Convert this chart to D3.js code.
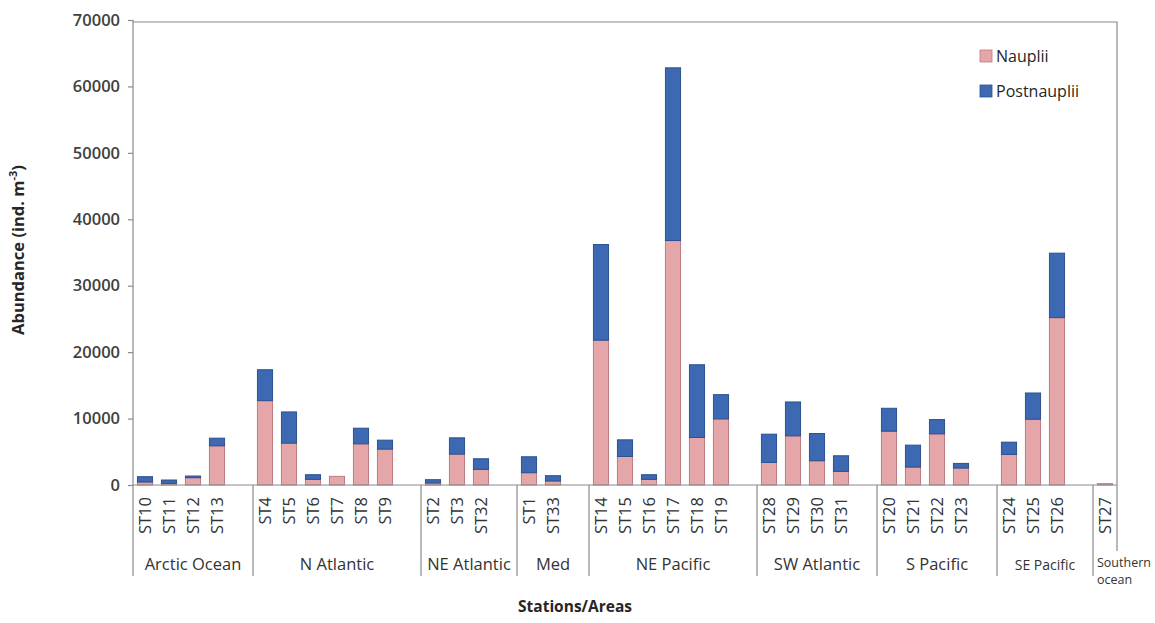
<!DOCTYPE html>
<html><head><meta charset="utf-8">
<script src="https://cdn.jsdelivr.net/npm/d3@7"></script>
<style>body{margin:0;background:#fff;} svg{display:block;font-family:"Open Sans",sans-serif;}</style>
</head><body><svg id="c" width="1155" height="623"></svg>
<script>
const stations = ["ST10","ST11","ST12","ST13","ST4","ST5","ST6","ST7","ST8","ST9","ST2","ST3","ST32","ST1","ST33","ST14","ST15","ST16","ST17","ST18","ST19","ST28","ST29","ST30","ST31","ST20","ST21","ST22","ST23","ST24","ST25","ST26","ST27"];
const areas = ["Arctic Ocean","Arctic Ocean","Arctic Ocean","Arctic Ocean","N Atlantic","N Atlantic","N Atlantic","N Atlantic","N Atlantic","N Atlantic","NE Atlantic","NE Atlantic","NE Atlantic","Med","Med","NE Pacific","NE Pacific","NE Pacific","NE Pacific","NE Pacific","NE Pacific","SW Atlantic","SW Atlantic","SW Atlantic","SW Atlantic","S Pacific","S Pacific","S Pacific","S Pacific","SE Pacific","SE Pacific","SE Pacific","Southern ocean"];
const nauplii = [450,250,1100,5900,12700,6300,850,1300,6200,5400,300,4650,2350,1850,600,21800,4300,850,36800,7150,9950,3400,7400,3650,2050,8100,2700,7700,2550,4600,9900,25200,200];
const postnauplii = [800,500,250,1150,4650,4700,700,0,2350,1350,500,2450,1600,2400,800,14400,2500,700,26000,10950,3650,4250,5100,4100,2350,3450,3300,2150,700,1850,3950,9700,0];
const yTicks = [0,10000,20000,30000,40000,50000,60000,70000];
const seriesNames = ["Nauplii","Postnauplii"];
const colors = {fill:["#e5a6a9","#3c69b2"], stroke:["#bb7c80","#2c5090"]};

const svg = d3.select("#c");
const X0 = 133, X1 = 1117, Y0 = 485, YT = 20;

const groupNames = [...new Set(areas)];
const slots = [];
const groupSpans = [];
groupNames.forEach((g, gi) => {
  const start = slots.length;
  stations.forEach((s, i) => { if (areas[i] === g) slots.push(s); });
  if (gi < groupNames.length - 1) slots.push("_gap" + gi);
  groupSpans.push({name: g, start, end: slots.length});
});

const p = 0.37;
const x = d3.scaleBand().domain(slots).range([X0, X1]).paddingInner(p).paddingOuter(p / 2);
const y = d3.scaleLinear().domain([0, 70000]).range([Y0, YT]);
const step = x.step();

svg.append("path").attr("d", `M${X0},${YT+2}H${X1}V551`).attr("fill","none").attr("stroke","#8a8a8a").attr("stroke-width",1.2);

const yAxis = d3.axisLeft(y).tickValues(yTicks).tickSize(5).tickPadding(8).tickFormat(d3.format("d"));
const ya = svg.append("g").attr("transform", `translate(${X0},0)`).call(yAxis);
ya.select(".domain").remove();
ya.selectAll(".tick line").attr("stroke","#8a8a8a").attr("stroke-width",1.2);
ya.selectAll(".tick text").attr("fill","#404040").attr("font-size","16.5px").attr("font-weight",600).attr("font-family","'Open Sans',sans-serif");
svg.append("line").attr("x1",X0).attr("x2",X0).attr("y1",YT).attr("y2",576).attr("stroke","#8a8a8a").attr("stroke-width",1.2);

const rows = stations.map((s, i) => ({st: s, Nauplii: nauplii[i], Postnauplii: postnauplii[i]}));
const stack = d3.stack().keys(seriesNames)(rows);
stack.forEach((layer, li) => {
  svg.append("g").selectAll("rect").data(layer.filter(d => d[1] - d[0] > 0)).join("rect")
    .attr("x", d => x(d.data.st)).attr("width", x.bandwidth())
    .attr("y", d => y(d[1])).attr("height", d => y(d[0]) - y(d[1]))
    .attr("fill", colors.fill[li]).attr("stroke", colors.stroke[li]).attr("stroke-width", 1);
});

svg.append("line").attr("x1",X0).attr("x2",X1).attr("y1",Y0).attr("y2",Y0).attr("stroke","#8a8a8a").attr("stroke-width",1.2);

svg.append("g").selectAll("text").data(stations).join("text")
  .attr("transform", d => `translate(${x(d) + x.bandwidth()/2 + 6},497) rotate(-90)`)
  .attr("text-anchor","end").attr("font-size","16.5px").attr("font-weight",500).attr("fill","#333").text(d => d);

groupSpans.forEach((g, gi) => {
  const xs = X0 + g.start * step, xe = X0 + g.end * step;
  if (gi > 0) svg.append("line").attr("x1",xs).attr("x2",xs).attr("y1",Y0).attr("y2",576).attr("stroke","#8a8a8a").attr("stroke-width",1.2);
  if (g.name === "Southern ocean") {
    const t = svg.append("text").attr("x", xs + 4).attr("y", 567).attr("font-size","12.5px").attr("font-weight",500).attr("fill","#333");
    t.append("tspan").attr("x", xs + 4).text("Southern");
    t.append("tspan").attr("x", xs + 4).attr("dy", 17).text("ocean");
  } else {
    const fs = g.name === "SE Pacific" ? "14px" : "16.5px";
    svg.append("text").attr("x", (xs + xe) / 2).attr("y", 570).attr("text-anchor","middle")
      .attr("font-size", fs).attr("font-weight",500).attr("fill","#333").text(g.name);
  }
});

svg.append("text").attr("transform","translate(24,250) rotate(-90)").attr("text-anchor","middle")
  .attr("font-size","16.5px").attr("font-weight",700).attr("fill","#262626")
  .html('Abundance (ind. m<tspan font-size="11px" dy="-7">-3</tspan><tspan dy="7">)</tspan>');
svg.append("text").attr("x",575).attr("y",612).attr("text-anchor","middle")
  .attr("font-size","15.5px").attr("font-weight",700).attr("fill","#262626").text("Stations/Areas");

const lg = svg.append("g");
seriesNames.forEach((n, i) => {
  const yy = 50 + i * 35;
  lg.append("rect").attr("x",980).attr("y",yy).attr("width",12).attr("height",12)
    .attr("fill", colors.fill[i]).attr("stroke", colors.stroke[i]).attr("stroke-width",0.8);
  lg.append("text").attr("x",996).attr("y",yy+12).attr("font-size","16px").attr("font-weight",500).attr("fill","#262626").text(n);
});
</script></body></html>
